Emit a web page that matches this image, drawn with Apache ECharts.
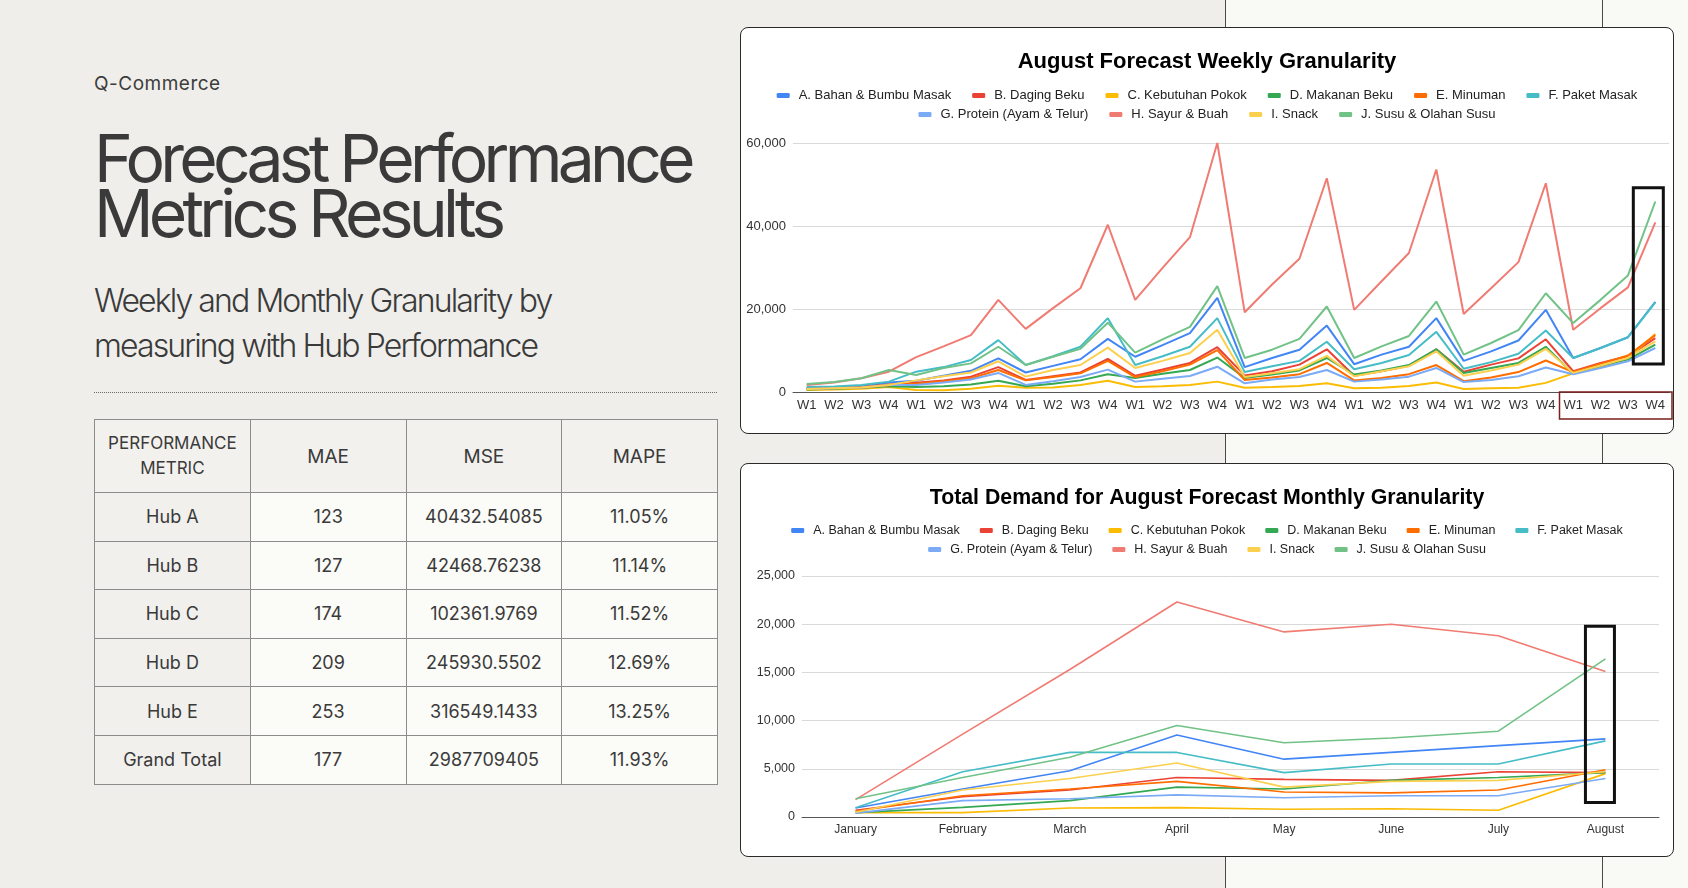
<!DOCTYPE html>
<html>
<head>
<meta charset="utf-8">
<script src="https://cdn.jsdelivr.net/npm/echarts@6/dist/echarts.min.js"></script>
<style>
  body { margin: 0; width: 1688px; height: 888px; background: #efeeea; position: relative; overflow: hidden; font-family: Inter, "Noto Sans", sans-serif; color: #3a3a3a; }
  .panel { position: absolute; left: 1225px; top: 0; width: 463px; height: 888px; background: #f9f9f5; border-left: 1px solid #4a4a4a; box-sizing: border-box; }
  .vline { position: absolute; left: 1602px; top: 0; width: 1px; height: 888px; background: #4a4a4a; }
  .txt { position: absolute; left: 94px; white-space: nowrap; }
  .kicker { top: 72px; font-size: 19px; line-height: 23px; letter-spacing: 0.5px; color: #3d3d3d; }
  .title { top: 131px; font-size: 66px; line-height: 55px; letter-spacing: -4.8px; color: #3a3a3a; }
  .sub { top: 278px; font-size: 32px; line-height: 45px; letter-spacing: -1.9px; font-weight: 300; color: #3a3a3a; }
  .dots { position: absolute; left: 94px; top: 392px; width: 623px; border-top: 1px dotted #6a6a6a; }
  table { position: absolute; left: 94px; top: 419px; width: 624px; border-collapse: collapse; table-layout: fixed; }
  td { border: 1px solid #8c8c8c; text-align: center; font-size: 18px; color: #3a3a3a; background: #fbfbf7; padding: 0; }
  tr.head td { background: #f2f1ee; height: 72px; font-size: 19px; }
  tr.head td.first { font-size: 17px; line-height: 25px; }
  tr.row td { height: 47.6px; }
  td.first { background: #f1f0ed; }
  .card { position: absolute; left: 740px; width: 934px; box-sizing: border-box; border: 1px solid #2a2a2a; border-radius: 8px; background: #fff; overflow: hidden; }
  #weekly { top: 27px; height: 407px; }
  #monthly { top: 463px; height: 394px; }
</style>
</head>
<body>
<div class="panel"></div>
<div class="vline"></div>

<div class="txt kicker">Q-Commerce</div>
<div class="txt title">Forecast Performance<br>Metrics Results</div>
<div class="txt sub">Weekly and Monthly Granularity by<br>measuring with Hub Performance</div>
<div class="dots"></div>
<table id="metrics"></table>

<div class="card" id="weekly"></div>
<div class="card" id="monthly"></div>

<script>
// ---- table data ----
const metricHeaders = ['PERFORMANCE<br>METRIC', 'MAE', 'MSE', 'MAPE'];
const hubs = ['Hub A', 'Hub B', 'Hub C', 'Hub D', 'Hub E', 'Grand Total'];
const mae = ['123', '127', '174', '209', '253', '177'];
const mse = ['40432.54085', '42468.76238', '102361.9769', '245930.5502', '316549.1433', '2987709405'];
const mape = ['11.05%', '11.14%', '11.52%', '12.69%', '13.25%', '11.93%'];

// ---- chart data ----
const seriesNames = ['A. Bahan & Bumbu Masak', 'B. Daging Beku', 'C. Kebutuhan Pokok', 'D. Makanan Beku', 'E. Minuman',
  'F. Paket Masak', 'G. Protein (Ayam & Telur)', 'H. Sayur & Buah', 'I. Snack', 'J. Susu & Olahan Susu'];
const seriesColors = ['#4285f4', '#ea4335', '#fbbc04', '#34a853', '#ff6d01', '#46bdc6', '#7baaf7', '#f07b72', '#fcd04f', '#71c287'];
const months = ['January', 'February', 'March', 'April', 'May', 'June', 'July', 'August'];
const weekTicks = ['W1', 'W2', 'W3', 'W4'];

// weekly values, Jan W1 .. Aug W4
const weeklyA = [900,1000,1300,2300, 2700,3900,5100,8100, 4700,6300,7900,12800, 8500,11300,14200,22700, 6000,8200,10200,16000, 6700,9000,10900,17800, 7500,9800,12400,19800, 8200,10600,13200,21700];
const weeklyB = [900,1000,1200,1800, 2200,2800,3700,6000, 2900,3800,4700,8000, 3900,5400,7000,10800, 4000,5000,6600,10300, 3900,5000,6300,10300, 4900,6600,8100,12700, 5000,7000,8600,13000];
const weeklyC = [500,600,800,1200, 500,400,800,1500, 1000,1100,1700,2700, 1200,1400,1700,2500, 1000,1200,1450,2100, 900,1000,1450,2300, 700,900,1000,2200, 4500,6000,8200,14000];
const weeklyD = [600,800,1000,1400, 1200,1400,1800,2700, 1400,2000,2800,4300, 3400,4400,5300,8300, 3400,4200,5200,8200, 4200,5200,6500,10300, 4600,5800,7000,10900, 4400,6300,7800,11400];
const weeklyE = [800,900,1100,1600, 2000,2600,3300,5300, 2800,3600,4500,7500, 3600,5000,6600,10100, 2900,3500,4300,7000, 2800,3400,4300,6500, 2600,3500,4800,7600, 4800,6800,8800,13700];
const weeklyF = [1200,1300,1700,2500, 4900,6000,7700,12500, 6500,8600,10900,17800, 6500,8600,10900,17800, 4800,6200,7500,12100, 5500,7000,8900,14500, 5600,7200,9200,14800, 8200,10600,13200,21600];
const weeklyG = [700,900,1100,1700, 1700,2300,3000,4600, 1700,2600,3600,5400, 2500,3200,3850,6100, 2100,3000,3600,5300, 2500,3000,3700,5800, 2400,2900,3800,5900, 4300,5800,7400,10600];
const weeklyH = [1700,2300,3300,4900, 8400,11000,13700,22200, 15200,20200,25000,40300, 22200,29900,37300,60000, 19200,25900,32100,51500, 19800,26700,33500,53600, 18800,25000,31300,50300, 15000,20200,25200,40900];
const weeklyI = [700,900,1100,1700, 2800,3800,4700,7400, 3700,5300,6500,10700, 5800,7500,9400,15000, 3600,4500,5500,8700, 3800,5000,6200,9800, 3900,5200,6600,10400, 4600,6400,8200,12200];
const weeklyJ = [1900,2400,3300,5300, 4100,5800,6900,10900, 6500,8500,10400,16700, 9500,12700,15700,25500, 8200,10200,12800,20600, 8200,11000,13500,21800, 9000,11800,14900,23800, 16600,22200,28100,45900];

// monthly values, January .. August
const monthlyA = [930, 2900, 4800, 8500, 6000, 6700, 7400, 8100];
const monthlyB = [700, 2100, 2800, 4100, 3900, 3800, 4700, 4600];
const monthlyC = [450, 450, 930, 970, 800, 860, 700, 4500];
const monthlyD = [450, 1000, 1700, 3100, 2900, 3800, 4100, 4600];
const monthlyE = [600, 2200, 2900, 3700, 2600, 2500, 2800, 4900];
const monthlyF = [970, 4700, 6700, 6700, 4600, 5500, 5500, 7900];
const monthlyG = [400, 1700, 1900, 2300, 2000, 2200, 2200, 4000];
const monthlyH = [1800, 8600, 15300, 22300, 19200, 20000, 18800, 15100];
const monthlyI = [500, 2800, 4000, 5600, 3100, 3700, 3800, 4700];
const monthlyJ = [1900, 4100, 6200, 9500, 7700, 8200, 8900, 16400];

// highlighted forecast (August)
const weeklyHighlight = { index: 31, from: 6750, to: 49200 };
const monthlyHighlight = { index: 7, from: 1500, to: 19800 };

// ---- table ----
let html = '<colgroup><col><col><col><col></colgroup><tr class="head">';
metricHeaders.forEach((h, i) => { html += '<td' + (i === 0 ? ' class="first"' : '') + '>' + h + '</td>'; });
html += '</tr>';
hubs.forEach((hub, i) => {
  html += '<tr class="row"><td class="first">' + hub + '</td><td>' + mae[i] + '</td><td>' + mse[i] + '</td><td>' + mape[i] + '</td></tr>';
});
document.getElementById('metrics').innerHTML = html;

// ---- charts ----
const weeklyCategories = months.flatMap(() => weekTicks);
const weeklyData = [weeklyA, weeklyB, weeklyC, weeklyD, weeklyE, weeklyF, weeklyG, weeklyH, weeklyI, weeklyJ];
const monthlyData = [monthlyA, monthlyB, monthlyC, monthlyD, monthlyE, monthlyF, monthlyG, monthlyH, monthlyI, monthlyJ];
const font = 'Arial, "Liberation Sans", sans-serif';
const weeklyGrid = { left: 52, right: 4, top: 115, bottom: 41 };
const monthlyGrid = { left: 61, right: 14, top: 112, bottom: 39 };

function legendRows(tops, fontSize, gap) {
  return [seriesNames.slice(0, 6), seriesNames.slice(6)].map((names, i) => ({
    data: names, top: tops[i], left: 'center', icon: 'roundRect', itemWidth: 13, itemHeight: 5, itemGap: gap,
    selectedMode: false, textStyle: { fontFamily: font, fontSize: fontSize, color: '#222', padding: [0, 0, 0, 4] }
  }));
}

function buildOption(cfg) {
  return {
    animation: false,
    color: seriesColors,
    title: { text: cfg.title, left: 'center', top: cfg.titleTop, textStyle: { fontFamily: font, fontSize: cfg.titleFont, fontWeight: 'bold', color: '#000' } },
    legend: legendRows(cfg.legendTops, cfg.legendFont, cfg.legendGap),
    grid: cfg.grid,
    xAxis: {
      type: 'category', data: cfg.categories, boundaryGap: true,
      axisTick: { show: false },
      axisLine: { lineStyle: { color: '#555', width: 1 } },
      axisLabel: { interval: 0, margin: 7, fontFamily: font, fontSize: cfg.xFont, color: '#333', fontWeight: cfg.xWeight }
    },
    yAxis: {
      type: 'value', min: 0, max: cfg.max, interval: cfg.interval,
      axisLine: { show: false }, axisTick: { show: false },
      splitLine: { lineStyle: { color: '#d9d9d9' } },
      axisLabel: { margin: 7, fontFamily: font, fontSize: cfg.yFont, color: '#333', formatter: v => v.toLocaleString('en-US') }
    },
    series: cfg.data.map((d, i) => ({
      name: seriesNames[i], type: 'line', data: d, symbol: 'none',
      lineStyle: { width: cfg.lineWidth }, emphasis: { disabled: true }
    }))
  };
}

function highlightBox(chart, hl, dxLeft, width, id) {
  const top = chart.convertToPixel({ gridIndex: 0 }, [hl.index, hl.to]);
  const bottom = chart.convertToPixel({ gridIndex: 0 }, [hl.index, hl.from]);
  return {
    id: id, type: 'rect', silent: true, z: 100,
    shape: { x: top[0] - dxLeft, y: top[1], width: width, height: bottom[1] - top[1] },
    style: { fill: 'none', stroke: '#111', lineWidth: 3 }
  };
}

const weekly = echarts.init(document.getElementById('weekly'));
weekly.setOption(buildOption({
  title: 'August Forecast Weekly Granularity', titleTop: 18, titleFont: 22, categories: weeklyCategories, data: weeklyData,
  grid: weeklyGrid, max: 60000, interval: 20000,
  legendTops: [56, 75], legendFont: 13, legendGap: 21, xFont: 13, yFont: 13, xWeight: 'normal', lineWidth: 2
}));

const monthly = echarts.init(document.getElementById('monthly'));
monthly.setOption(buildOption({
  title: 'Total Demand for August Forecast Monthly Granularity', titleTop: 19, titleFont: 21.3, categories: months, data: monthlyData,
  grid: monthlyGrid, max: 25000, interval: 5000,
  legendTops: [55, 74], legendFont: 12.5, legendGap: 20, xFont: 12, yFont: 12.5, xWeight: 500, lineWidth: 1.6
}));

// annotation boxes around the August forecast
const band = (weekly.getWidth() - weeklyGrid.left - weeklyGrid.right) / weeklyCategories.length;
const lastWeek = weekly.convertToPixel({ gridIndex: 0 }, [weeklyCategories.length - 1, 0]);
const augLeft = lastWeek[0] - band * 3.5;
weekly.setOption({
  graphic: [
    highlightBox(weekly, weeklyHighlight, 22, 30, 'wbox'),
    {
      id: 'augLabels', type: 'rect', silent: true, z: 100,
      shape: { x: augLeft, y: lastWeek[1], width: weekly.getWidth() - 1 - augLeft, height: 27 },
      style: { fill: 'none', stroke: '#7a1f1a', lineWidth: 1.5 }
    }
  ]
});
monthly.setOption({ graphic: [highlightBox(monthly, monthlyHighlight, 20, 29, 'mbox')] });
</script>
</body>
</html>
